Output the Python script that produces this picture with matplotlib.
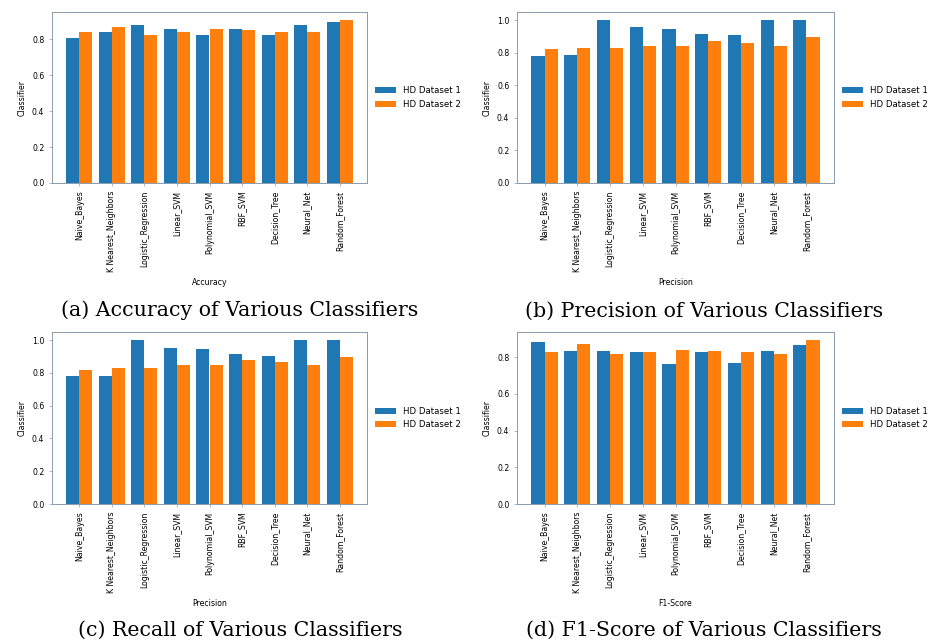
import numpy as np
import matplotlib
matplotlib.use("Agg")
import matplotlib.pyplot as plt

classifiers = ["Naive_Bayes", "K Nearest_Neighbors", "Logistic_Regression",
               "Linear_SVM", "Polynomial_SVM", "RBF_SVM", "Decision_Tree",
               "Neural_Net", "Random_Forest"]
series_names = ["HD Dataset 1", "HD Dataset 2"]

acc_1 = [0.807, 0.837, 0.878, 0.855, 0.824, 0.855, 0.824, 0.878, 0.892]
acc_2 = [0.839, 0.868, 0.824, 0.837, 0.857, 0.852, 0.839, 0.837, 0.905]

prec_1 = [0.777, 0.783, 1.0, 0.957, 0.943, 0.914, 0.906, 1.0, 1.0]
prec_2 = [0.820, 0.828, 0.828, 0.844, 0.844, 0.875, 0.861, 0.844, 0.895]

rec_1 = [0.780, 0.784, 1.0, 0.953, 0.947, 0.918, 0.906, 1.0, 1.0]
rec_2 = [0.820, 0.831, 0.831, 0.847, 0.847, 0.878, 0.867, 0.847, 0.896]

f1_1 = [0.884, 0.836, 0.836, 0.829, 0.762, 0.829, 0.771, 0.836, 0.867]
f1_2 = [0.829, 0.871, 0.815, 0.829, 0.842, 0.836, 0.829, 0.816, 0.893]

panels = [
    (acc_1, acc_2, "Accuracy", "(a) Accuracy of Various Classifiers"),
    (prec_1, prec_2, "Precision", "(b) Precision of Various Classifiers"),
    (rec_1, rec_2, "Precision", "(c) Recall of Various Classifiers"),
    (f1_1, f1_2, "F1-Score", "(d) F1-Score of Various Classifiers"),
]

W, H = 934, 641
fig = plt.figure(figsize=(W / 100, H / 100), dpi=100)

# axes boxes in pixels: left, top, right, bottom
boxes = [(52, 12, 367, 183), (517, 12, 834, 183),
         (52, 332, 367, 504), (517, 332, 834, 504)]
caption_pos = [(240, 310), (704, 311), (240, 630), (704, 630)]

x = np.arange(len(classifiers))
w = 0.4
spine_col = "#8a9bb0"

for (v1, v2, xlab, cap), (l, t, r, b), (cx, cy) in zip(panels, boxes, caption_pos):
    ax = fig.add_axes([l / W, 1 - b / H, (r - l) / W, (b - t) / H])
    ax.bar(x - w / 2, v1, w, color="#1f77b4", label=series_names[0])
    ax.bar(x + w / 2, v2, w, color="#ff7f0e", label=series_names[1])
    ax.set_xticks(x)
    ax.set_xticklabels(classifiers, rotation=90, fontsize=5.6)
    ax.tick_params(axis="y", labelsize=5.6)
    ax.tick_params(length=2, width=0.5, color=spine_col)
    ax.set_xlabel(xlab, fontsize=5.6)
    ax.set_ylabel("Classifier", fontsize=5.6)
    for s in ax.spines.values():
        s.set_color(spine_col)
        s.set_linewidth(0.7)
    ax.legend(loc="center left", bbox_to_anchor=(1.0, 0.5), fontsize=6.2,
              frameon=False, handlelength=2.5)
    fig.text(cx / W, 1 - cy / H, cap, ha="center", va="center",
             family="DejaVu Serif", fontsize=14.8)

fig.savefig("out.png", dpi=100)
